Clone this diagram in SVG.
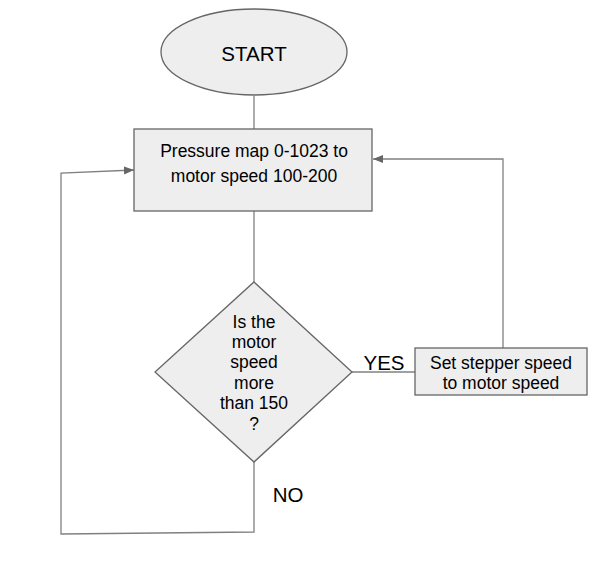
<svg xmlns="http://www.w3.org/2000/svg" width="611" height="579" viewBox="0 0 611 579">
<defs>
<style>
.shape{fill:#eeeeee;stroke:#666666;stroke-width:1.3}
.conn{fill:none;stroke:#808080;stroke-width:1.3}
.t{font-family:"Liberation Sans",Arial,sans-serif;font-size:17.5px;fill:#000;text-anchor:middle}
.lbl{font-family:"Liberation Sans",Arial,sans-serif;font-size:20.5px;fill:#000;text-anchor:middle}
</style>
<marker id="arr" viewBox="0 0 10 10" refX="10" refY="5" markerWidth="10" markerHeight="10" markerUnits="userSpaceOnUse" orient="auto">
<path d="M0,1 L10,5 L0,9 z" fill="#666666"/>
</marker>
</defs>
<rect width="611" height="579" fill="#ffffff"/>
<g id="connectors">
<path class="conn" d="M254,96 L254,129"/>
<path class="conn" d="M254,211 L254,282"/>
<path class="conn" d="M352,372 L415,372"/>
<path class="conn" d="M503,348 L503,159 L373,159" marker-end="url(#arr)"/>
<path class="conn" d="M254,462 L254,532 L61,534 L61,173 L134,170" marker-end="url(#arr)"/>
</g>
<g id="start">
<ellipse class="shape" cx="254" cy="52" rx="93" ry="43"/>
<text class="lbl" x="254" y="61">START</text>
</g>
<g id="pressure">
<rect class="shape" x="134" y="129" width="238" height="82"/>
<text class="t" x="254" y="157">Pressure map 0-1023 to</text>
<text class="t" x="254" y="182">motor speed 100-200</text>
</g>
<g id="decision">
<polygon class="shape" points="254,282 352,372 254,462 155,372"/>
<text class="t" x="254" y="328">Is the</text>
<text class="t" x="254" y="348">motor</text>
<text class="t" x="254" y="368">speed</text>
<text class="t" x="254" y="389">more</text>
<text class="t" x="254" y="409">than 150</text>
<text class="t" x="254" y="430">?</text>
</g>
<g id="setstepper">
<rect class="shape" x="415" y="348" width="172" height="47"/>
<text class="t" x="501" y="369">Set stepper speed</text>
<text class="t" x="501" y="389">to motor speed</text>
</g>
<g id="labels">
<text class="lbl" x="384" y="370">YES</text>
<text class="lbl" x="288" y="502">NO</text>
</g>
</svg>
